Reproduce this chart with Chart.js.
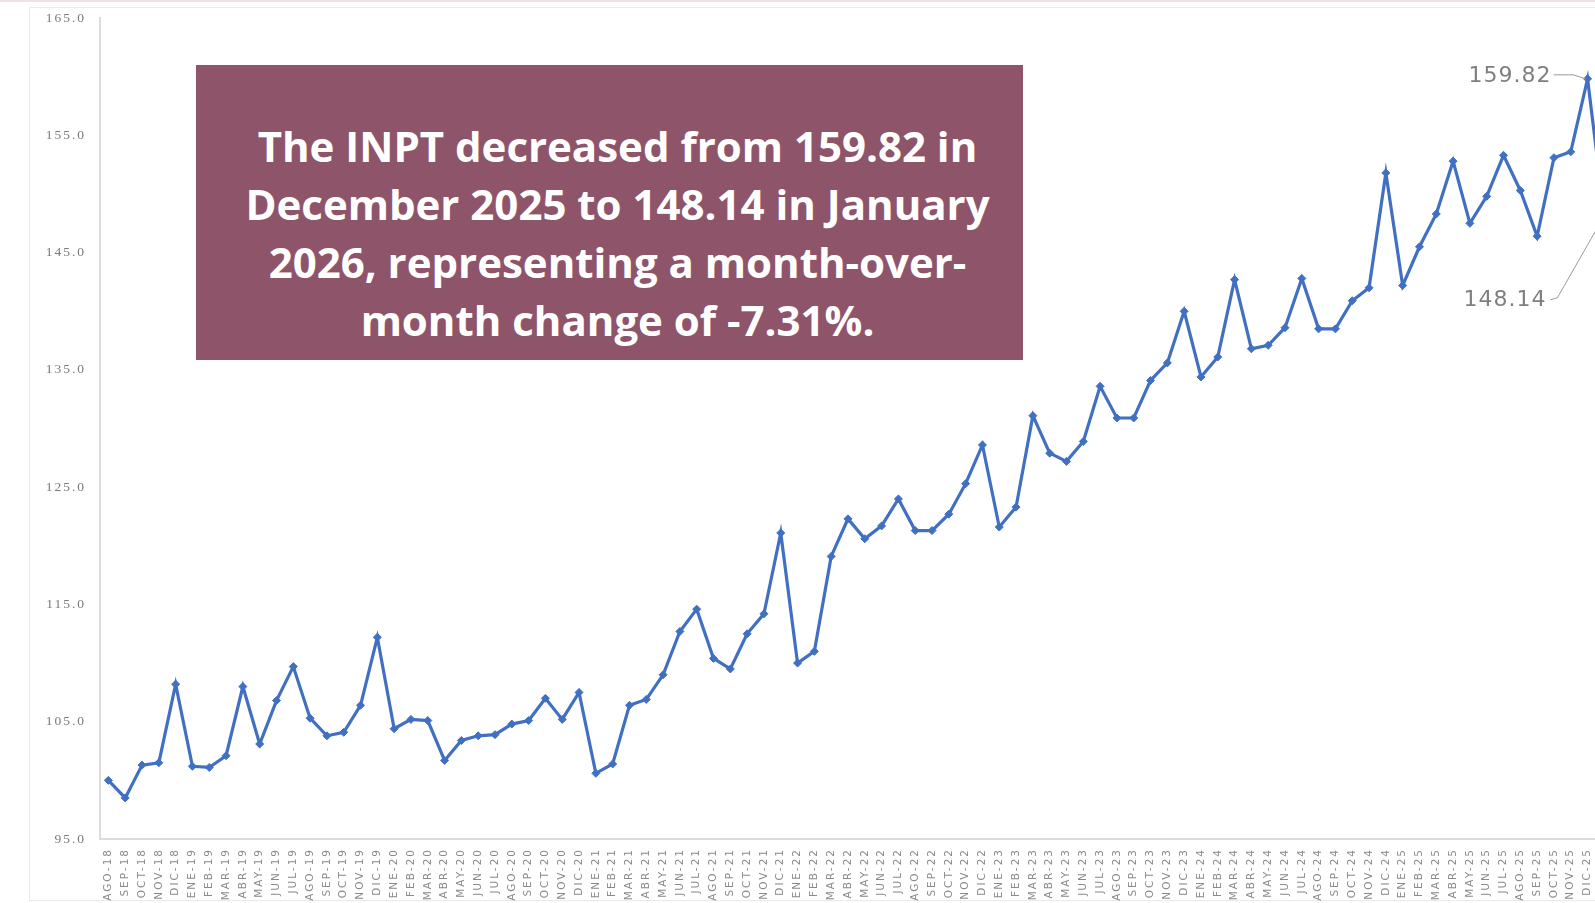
<!DOCTYPE html>
<html>
<head>
<meta charset="utf-8">
<title>INPT</title>
<script src="https://cdn.jsdelivr.net/npm/chart.js@4.4.1/dist/chart.umd.min.js"></script>
<style>
  html, body { margin: 0; padding: 0; background: #fff; overflow: hidden; }
  body { width: 1595px; height: 903px; position: relative; }
  #topline { position: absolute; left: 0; top: 0; width: 1595px; height: 2px; background: #efe1ec; }
  #frame { position: absolute; left: 29px; top: 7px; width: 1700px; height: 892px; border: 1px solid #e9e9e9; }
  #chart { position: absolute; left: 0; top: -4px; }
  #note {
    position: absolute; left: 196px; top: 65px; width: 827px; height: 295px;
    background: #8e556a; color: #fff; box-sizing: border-box; padding-top: 52px; padding-left: 16px;
    font-family: "Open Sans", "Noto Sans", sans-serif; font-weight: 700;
    font-size: 42px; line-height: 58px; text-align: center;
  }
</style>
</head>
<body>
<div id="topline"></div>
<div id="frame"></div>
<canvas id="chart" width="1626" height="907"></canvas>
<div id="note">The INPT decreased from 159.82 in<br>December 2025 to 148.14 in January<br>2026, representing a month-over-<br>month change of -7.31%.</div>

<script>
const months = [
  "AGO-18", "SEP-18", "OCT-18", "NOV-18", "DIC-18",
  "ENE-19", "FEB-19", "MAR-19", "ABR-19", "MAY-19", "JUN-19", "JUL-19", "AGO-19", "SEP-19", "OCT-19", "NOV-19", "DIC-19",
  "ENE-20", "FEB-20", "MAR-20", "ABR-20", "MAY-20", "JUN-20", "JUL-20", "AGO-20", "SEP-20", "OCT-20", "NOV-20", "DIC-20",
  "ENE-21", "FEB-21", "MAR-21", "ABR-21", "MAY-21", "JUN-21", "JUL-21", "AGO-21", "SEP-21", "OCT-21", "NOV-21", "DIC-21",
  "ENE-22", "FEB-22", "MAR-22", "ABR-22", "MAY-22", "JUN-22", "JUL-22", "AGO-22", "SEP-22", "OCT-22", "NOV-22", "DIC-22",
  "ENE-23", "FEB-23", "MAR-23", "ABR-23", "MAY-23", "JUN-23", "JUL-23", "AGO-23", "SEP-23", "OCT-23", "NOV-23", "DIC-23",
  "ENE-24", "FEB-24", "MAR-24", "ABR-24", "MAY-24", "JUN-24", "JUL-24", "AGO-24", "SEP-24", "OCT-24", "NOV-24", "DIC-24",
  "ENE-25", "FEB-25", "MAR-25", "ABR-25", "MAY-25", "JUN-25", "JUL-25", "AGO-25", "SEP-25", "OCT-25", "NOV-25", "DIC-25",
  "ENE-26"
];

const inpt = [
  100.0, 98.5, 101.3, 101.5, 108.2,
  101.2, 101.1, 102.1, 108.0, 103.1, 106.8, 109.7, 105.3, 103.8, 104.1, 106.4, 112.2,
  104.4, 105.2, 105.1, 101.7, 103.4, 103.8, 103.9, 104.8, 105.1, 107.0, 105.2, 107.5,
  100.6, 101.4, 106.4, 106.9, 109.0, 112.7, 114.6, 110.4, 109.5, 112.5, 114.2, 121.1,
  110.0, 111.0, 119.1, 122.3, 120.6, 121.7, 124.0, 121.3, 121.3, 122.7, 125.3, 128.6,
  121.6, 123.3, 131.1, 127.9, 127.2, 128.9, 133.6, 130.9, 130.9, 134.1, 135.6, 140.0,
  134.4, 136.1, 142.7, 136.8, 137.1, 138.6, 142.8, 138.5, 138.5, 140.9, 142.0, 151.8,
  142.2, 145.5, 148.3, 152.8, 147.5, 149.8, 153.3, 150.3, 146.4, 153.1, 153.6, 159.82,
  148.14
];

const yTicks = [95, 105, 115, 125, 135, 145, 155, 165];

const lineColor = "#4170c2";

// spaced-out axis text like the original export
const spacing = {
  id: "spacing",
  beforeDraw(chart) { chart.ctx.letterSpacing = "2px"; },
  afterDatasetsDraw(chart) { chart.ctx.letterSpacing = "0px"; }
};

// callouts for the last two points
const callouts = {
  id: "callouts",
  afterDatasetsDraw(chart) {
    const ctx = chart.ctx;
    const meta = chart.getDatasetMeta(0);
    const n = inpt.length;
    const pDec = meta.data[n - 2];
    const pJan = meta.data[n - 1];
    ctx.save();
    ctx.letterSpacing = "1px";
    ctx.font = "22px 'DejaVu Sans'";
    ctx.fillStyle = "#7f7f7f";
    ctx.textAlign = "right";
    ctx.textBaseline = "middle";
    ctx.fillText(inpt[n - 2].toFixed(2), pDec.x - 36, pDec.y - 3);
    ctx.fillText(inpt[n - 1].toFixed(2), pJan.x - 58, pJan.y + 84);
    ctx.strokeStyle = "#9a9a9a";
    ctx.lineWidth = 1;
    ctx.beginPath();
    ctx.moveTo(pDec.x - 34, pDec.y - 4);
    ctx.lineTo(pDec.x - 14, pDec.y - 4);
    ctx.lineTo(pDec.x - 2, pDec.y);
    ctx.moveTo(pJan.x - 54, pJan.y + 84);
    ctx.lineTo(pJan.x - 47, pJan.y + 82);
    ctx.lineTo(pJan.x - 3, pJan.y + 5);
    ctx.stroke();
    ctx.restore();
  }
};

new Chart(document.getElementById("chart"), {
  type: "line",
  data: {
    labels: months,
    datasets: [{
      label: "INPT",
      data: inpt,
      borderColor: lineColor,
      backgroundColor: lineColor,
      borderWidth: 3.2,
      tension: 0,
      pointStyle: "rectRot",
      pointRadius: 4,
      pointBackgroundColor: lineColor,
      pointBorderColor: lineColor,
      pointBorderWidth: 1
    }]
  },
  options: {
    responsive: false,
    animation: false,
    layout: { padding: { top: 13, right: 0, left: 0, bottom: 0 } },
    plugins: { legend: { display: false }, tooltip: { enabled: false } },
    scales: {
      x: {
        type: "category",
        offset: true,
        grid: { display: false, drawTicks: false },
        border: { display: true, color: "#dcdcdc", width: 2 },
        ticks: {
          autoSkip: false, minRotation: 90, maxRotation: 90, padding: 9,
          color: "#8a8a8a", font: { family: "DejaVu Sans", size: 10.5 }
        },
        afterFit(scale) { scale.height = 64; }
      },
      y: {
        min: 95, max: 165,
        afterBuildTicks(scale) { scale.ticks = yTicks.map(v => ({ value: v })); },
        grid: { display: false, drawTicks: false },
        border: { display: true, color: "#dcdcdc", width: 2 },
        ticks: {
          padding: 14, color: "#7a7a7a",
          font: { family: "Liberation Serif", size: 13.5 },
          callback: v => v.toFixed(1)
        },
        afterFit(scale) { scale.width = 100; }
      }
    }
  },
  plugins: [spacing, callouts]
});
</script>
</body>
</html>
